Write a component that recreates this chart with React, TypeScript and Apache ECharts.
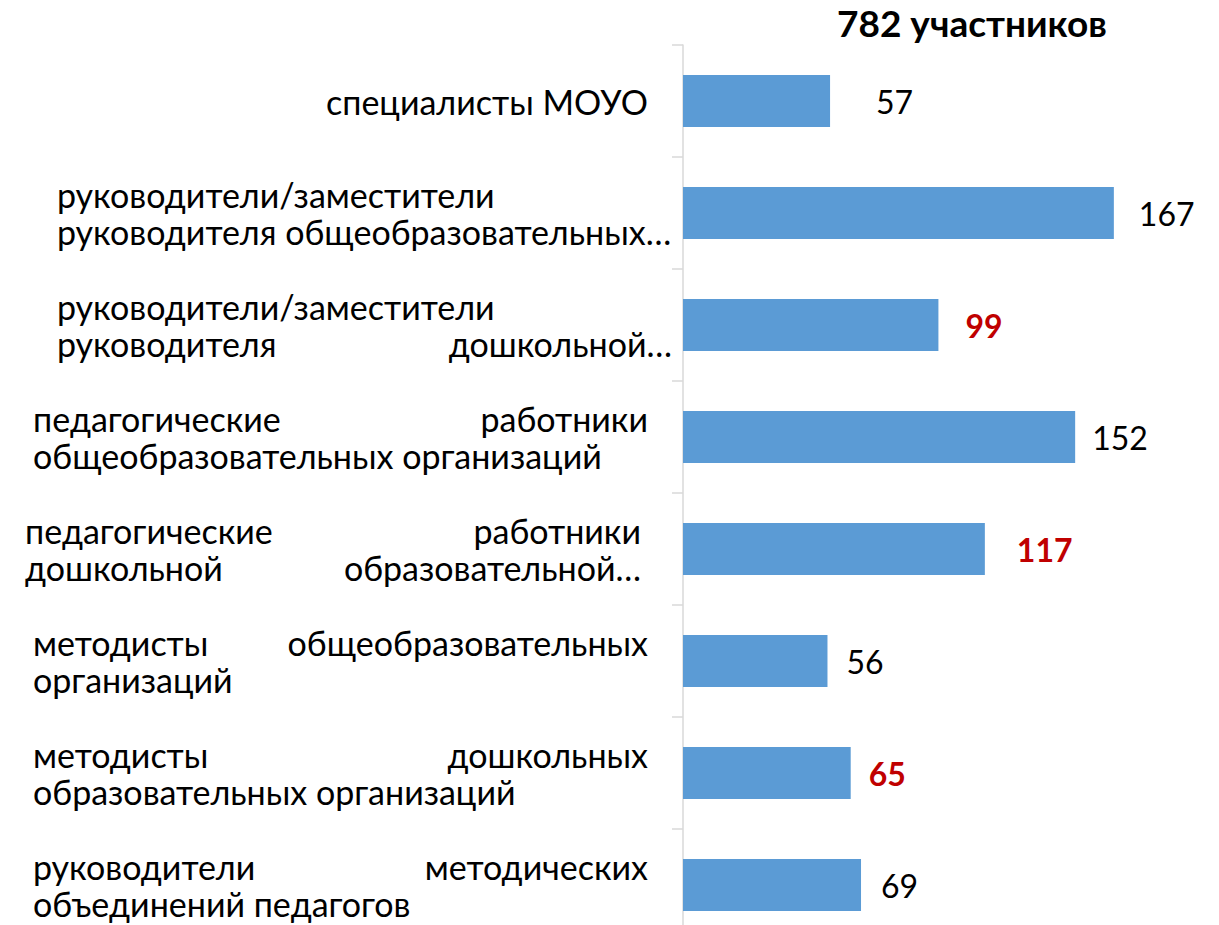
import React, { useEffect, useRef } from "react";
import * as echarts from "echarts";

// ---- data ----
const categoryLines: string[][] = [
  ["специалисты МОУО"],
  ["руководители/заместители", "руководителя общеобразовательных…"],
  ["руководители/заместители", "руководителя дошкольной…"],
  ["педагогические работники", "общеобразовательных организаций"],
  ["педагогические работники", "дошкольной образовательной…"],
  ["методисты общеобразовательных", "организаций"],
  ["методисты дошкольных", "образовательных организаций"],
  ["руководители методических", "объединений педагогов"],
];
const categories: string[] = categoryLines.map((l) => l.join(" "));
const values: number[] = [57, 167, 99, 152, 117, 56, 65, 69];
const highlighted: boolean[] = [false, false, true, false, true, false, true, false];
const titleSuffix = "участников";

// ---- layout / style (not data) ----
// line modes: L = left, J = justified, R = right
const lineModes: string[][] = [
  ["R"],
  ["L", "L"],
  ["L", "J"],
  ["J", "L"],
  ["J", "J"],
  ["J", "L"],
  ["J", "L"],
  ["J", "L"],
];
const padLeft: number[] = [0, 32, 32, 8, 0, 8, 8, 8];
const padRight: number[] = [24, 0, 0, 24, 31, 24, 24, 24];
const labelDistances: number[] = [46, 25, 27, 17, 32, 19, 18, 20];

const FONT = "Lato";
const LABEL_SIZE = 34;
const LINE_H = 37;

function buildRich() {
  const base = { fontFamily: FONT, fontSize: LABEL_SIZE, color: "#000", lineHeight: LINE_H };
  const rich: Record<string, any> = {
    l: { ...base, align: "left" },
    r: { ...base, align: "right" },
  };
  [...padLeft, ...padRight].forEach((w) => {
    if (w > 0) {
      rich["sl" + w] = { ...base, align: "left", width: w };
      rich["sr" + w] = { ...base, align: "right", width: w };
    }
  });
  return rich;
}

function formatCategory(idx: number): string {
  const lines = categoryLines[idx];
  return lines
    .map((line, j) => {
      const mode = lineModes[idx][j];
      const pl = padLeft[idx] > 0 ? `{sl${padLeft[idx]}| }` : "";
      const pr = padRight[idx] > 0 ? `{sr${padRight[idx]}| }` : "";
      let body = "";
      if (mode === "J") {
        const k = line.indexOf(" ");
        body = `{l|${line.slice(0, k)}}{r|${line.slice(k + 1)}}`;
      } else if (mode === "R") {
        body = `{r|${line}}`;
      } else {
        body = `{l|${line}}`;
      }
      return pl + body + pr;
    })
    .join("\n");
}

export default function App() {
  const ref = useRef<HTMLDivElement>(null);
  useEffect(() => {
    if (!ref.current) return;
    const chart = echarts.init(ref.current, undefined, { renderer: "svg" });
    const total = values.reduce((a, b) => a + b, 0);
    chart.setOption({
      animation: false,
      backgroundColor: "#fff",
      title: {
        text: `${total} ${titleSuffix}`,
        left: 837,
        top: 2,
        padding: 0,
        textStyle: {
          fontFamily: FONT,
          fontSize: 37,
          lineHeight: 40,
          fontWeight: "bold",
          color: "#000",
        },
      },
      grid: {
        left: 683,
        top: 45,
        width: 516,
        height: 896,
        containLabel: false,
        outerBoundsMode: "none",
      },
      xAxis: { type: "value", min: 0, max: 200, show: false },
      yAxis: {
        type: "category",
        inverse: true,
        data: categories,
        axisLine: { show: true, lineStyle: { color: "#D9D9D9", width: 1.5 } },
        axisTick: { show: true, length: 11, lineStyle: { color: "#D9D9D9", width: 1.5 } },
        axisLabel: {
          interval: 0,
          margin: 11,
          width: 647,
          overflow: "none",
          formatter: (_v: string, idx: number) => formatCategory(idx),
          rich: buildRich(),
        },
        splitLine: { show: false },
      },
      series: [
        {
          type: "bar",
          barWidth: 52,
          itemStyle: { color: "#5B9BD5" },
          label: {
            show: true,
            position: "right",
            fontFamily: FONT,
            fontSize: 32,
            color: "#000",
          },
          data: values.map((v, i) => ({
            value: v,
            label: {
              distance: labelDistances[i],
              color: highlighted[i] ? "#C00000" : "#000",
              fontWeight: highlighted[i] ? "bold" : "normal",
            },
          })),
        },
      ],
    });
    return () => chart.dispose();
  }, []);
  return (
    <div
      ref={ref}
      style={{ position: "fixed", left: 0, top: 0, width: 1219, height: 925, background: "#fff" }}
    />
  );
}
